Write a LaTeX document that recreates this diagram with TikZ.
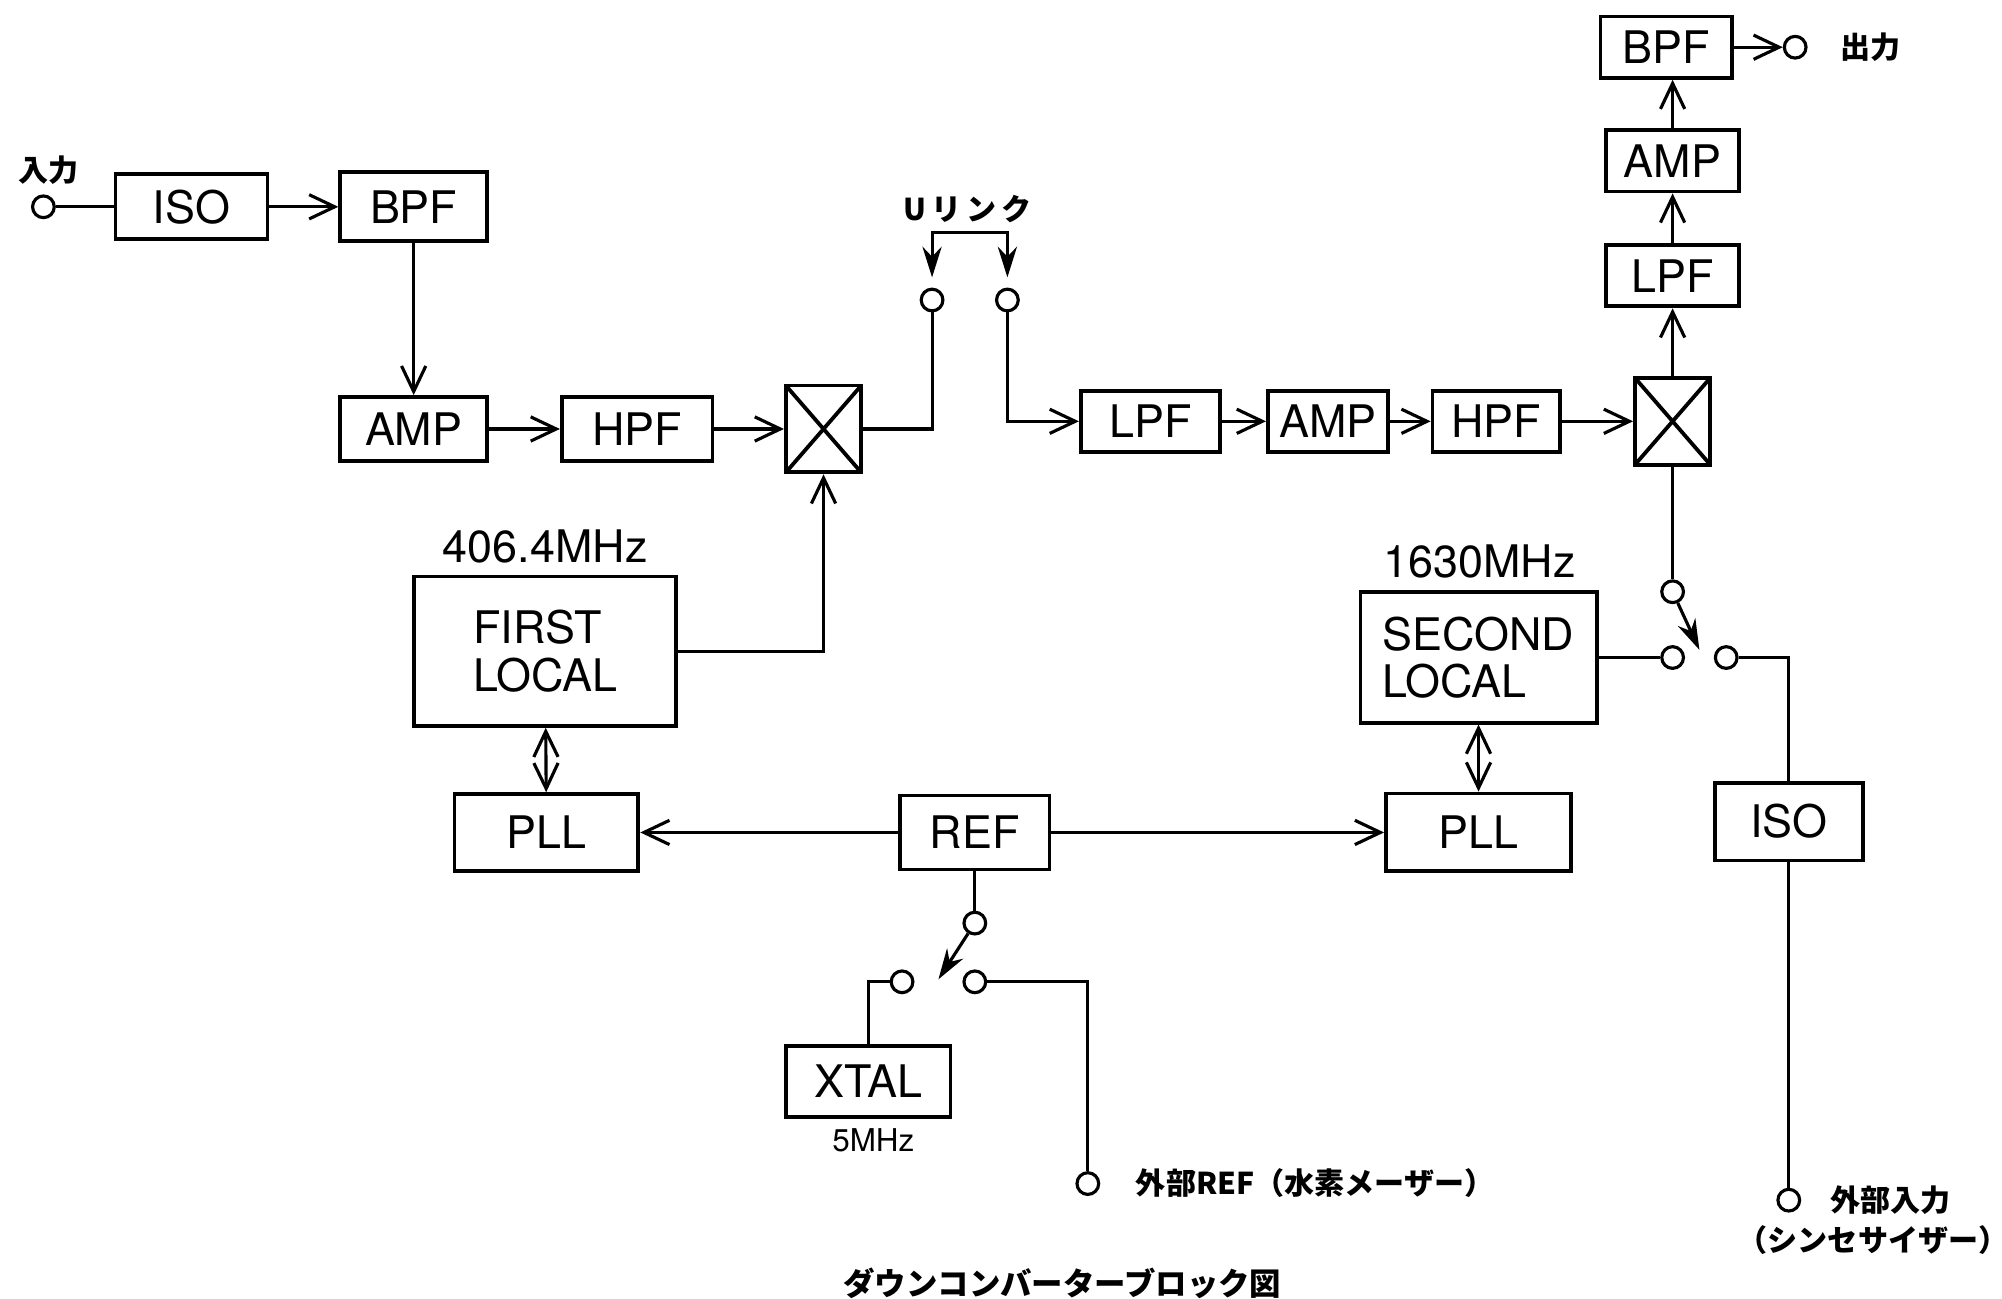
\documentclass[tikz,border=0pt]{standalone}
\usepackage{fontspec}
\setmainfont{TeX Gyre Heros}
\newfontfamily\jp{Noto Sans CJK JP}
\usepackage{tikz}
\usetikzlibrary{arrows.meta,positioning}

\begin{document}
\begin{tikzpicture}[scale=1.0,
    line width=0.7pt,
    >={Straight Barb[length=2mm,width=1.9mm]},
    blk/.style={draw, line width=0.85pt, inner sep=0pt, font=\fontsize{10}{10.5}\selectfont},
    mixer/.style={draw, line width=0.85pt, minimum width=5.9mm, minimum height=6.8mm,
      path picture={\draw (path picture bounding box.north west) -- (path picture bounding box.south east)
        (path picture bounding box.south west) -- (path picture bounding box.north east);}},
    term/.style={circle, draw, inner sep=0pt, minimum size=1.7mm},
    jlab/.style={font=\jp\bfseries\fontsize{6.7}{8}\selectfont},
    freq/.style={font=\fontsize{10}{12}\selectfont},
    sw/.style={-{Stealth[length=2.4mm,width=1.5mm]}}]
  \useasboundingbox (0,0) rectangle (15.68,10.17);
  % Input chain
  \node[term] (in) at (0.34,8.55) {};
  \node[jlab] (inlab) at (0.38,8.84) {入力};
  \node[blk, minimum width=11.9mm, minimum height=5.1mm] (iso1) at (1.50,8.55) {ISO};
  \node[blk, minimum width=11.5mm, minimum height=5.4mm] (bpf1) at (3.24,8.55) {BPF};
  \node[blk, minimum width=11.5mm, minimum height=5mm] (amp1) at (3.24,6.81) {AMP};
  \node[blk, minimum width=11.8mm, minimum height=5mm] (hpf1) at (4.99,6.81) {HPF};
  \node[mixer] (mix1) at (6.45,6.81) {};
  % U link
  \node[term] (ua) at (7.30,7.82) {};
  \node[term] (ub) at (7.89,7.82) {};
  \node[jlab] (ulab) at (7.58,8.53) {U\,リ\,ン\,ク};
  \coordinate (ubar) at (7.595,8.35);
  % Second IF chain
  \node[blk, minimum width=10.9mm, minimum height=4.8mm] (lpf1) at (9.01,6.87) {LPF};
  \node[blk, minimum width=9.4mm, minimum height=4.8mm] (amp2) at (10.40,6.87) {AMP};
  \node[blk, minimum width=10mm, minimum height=4.8mm] (hpf2) at (11.72,6.87) {HPF};
  \node[mixer] (mix2) at (13.10,6.87) {};
  \node[blk, minimum width=10.4mm, minimum height=4.8mm] (lpf2) at (13.10,8.01) {LPF};
  \node[blk, minimum width=10.4mm, minimum height=4.8mm] (amp3) at (13.10,8.91) {AMP};
  \node[blk, minimum width=10.3mm, minimum height=4.8mm] (bpf3) at (13.05,9.80) {BPF};
  \node[term] (out) at (14.06,9.80) {};
  \node[jlab, right=1.3mm of out] (outlab) {出力};
  % Local oscillators
  \node[freq] (f1) at (4.27,5.89) {406.4MHz};
  \node[blk, align=left, minimum width=20.5mm, minimum height=11.7mm] (lo1) at (4.27,5.07) {FIRST\\LOCAL};
  \node[blk, minimum width=14.4mm, minimum height=6mm] (pll1) at (4.28,3.65) {PLL};
  \node[freq] (f2) at (11.59,5.77) {1630MHz};
  \node[blk, align=left, minimum width=18.5mm, minimum height=10.2mm] (lo2) at (11.58,5.02) {SECOND\\LOCAL};
  \node[blk, minimum width=14.5mm, minimum height=6.1mm] (pll2) at (11.58,3.65) {PLL};
  \node[blk, minimum width=11.7mm, minimum height=5.8mm] (ref) at (7.635,3.65) {REF};
  % Reference switch
  \node[term] (sa) at (7.635,2.94) {};
  \node[term] (sb) at (7.065,2.48) {};
  \node[term] (sc) at (7.635,2.48) {};
  \coordinate (sarm) at (7.35,2.50);
  \node[blk, minimum width=12.9mm, minimum height=5.6mm] (xtal) at (6.80,1.70) {XTAL};
  \node[font=\fontsize{7}{8}\selectfont] (xf) at (6.84,1.24) {5MHz};
  \node[term] (eref) at (8.52,0.90) {};
  \node[jlab, right=1.5mm of eref] (ereflab) {外部REF（水素メーザー）};
  % Second local switch
  \node[term] (ta) at (13.10,5.535) {};
  \node[term] (tb) at (13.10,5.02) {};
  \node[term] (tc) at (13.52,5.02) {};
  \coordinate (tarm) at (13.31,5.08);
  \node[blk, minimum width=11.6mm, minimum height=6.1mm] (iso2) at (14.01,3.735) {ISO};
  \node[term] (ein) at (14.01,0.77) {};
  \node[jlab, right=1mm of ein] (einlab) {外部入力};
  \node[jlab] (synth) at (14.67,0.46) {（シンセサイザー）};
  \node[jlab, font=\jp\bfseries\fontsize{7}{8}\selectfont] (cap) at (8.32,0.12) {ダウンコンバーターブロック図};
  % Connections
  \draw (in) -- (iso1);
  \draw[->] (iso1) -- (bpf1);
  \draw[->] (bpf1) -- (amp1);
  \draw[->] (amp1) -- (hpf1);
  \draw[->] (hpf1) -- (mix1);
  \draw (mix1) -| (ua);
  \draw[->] (ub) |- (lpf1);
  \draw[sw, shorten >=0.8mm] (ubar) -| (ua);
  \draw[sw, shorten >=0.8mm] (ubar) -| (ub);
  \draw[->] (lpf1) -- (amp2);
  \draw[->] (amp2) -- (hpf2);
  \draw[->] (hpf2) -- (mix2);
  \draw[->] (mix2) -- (lpf2);
  \draw[->] (lpf2) -- (amp3);
  \draw[->] (amp3) -- (amp3 |- bpf3.south);
  \draw[->] (bpf3) -- (out);
  \draw[->] (lo1) -| (mix1);
  \draw[<->] (lo1) -- (pll1);
  \draw[->] (ref) -- (pll1);
  \draw[->] (ref) -- (pll2);
  \draw[<->] (lo2) -- (pll2);
  \draw (ref) -- (sa);
  \draw[sw] (sa) -- (sarm);
  \draw (sb) -| (xtal);
  \draw (sc) -| (eref);
  \draw (mix2) -- (ta);
  \draw[sw] (ta) -- (tarm);
  \draw (lo2) -- (tb);
  \draw (tc) -| (iso2);
  \draw (iso2) -- (ein);
\end{tikzpicture}
\end{document}
